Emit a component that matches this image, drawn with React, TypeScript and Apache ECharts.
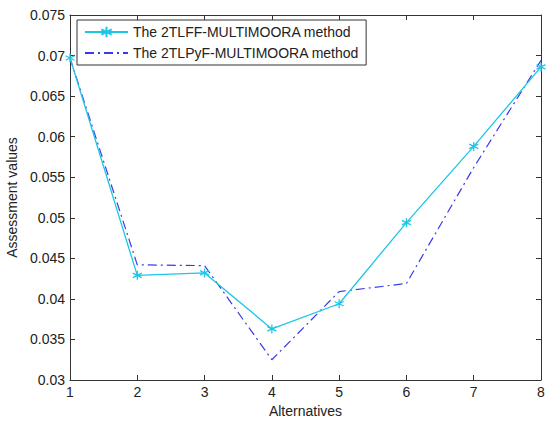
import React, { useEffect, useRef } from "react";
import * as echarts from "echarts";

const alternatives = [1, 2, 3, 4, 5, 6, 7, 8];
const tlffValues = [0.0697, 0.0429, 0.0432, 0.0363, 0.0394, 0.0494, 0.0588, 0.0686];
const tlpyfValues = [0.0697, 0.0442, 0.0441, 0.0325, 0.0409, 0.0419, 0.0562, 0.0694];
const seriesNames = ["The 2TLFF-MULTIMOORA method", "The 2TLPyF-MULTIMOORA method"];

const FONT = "Liberation Sans";
const FS = 14;
const asterisk = "path://M0,-5L0,5M-4.3,-2.5L4.3,2.5M-4.3,2.5L4.3,-2.5";

export default function App() {
  const ref = useRef<HTMLDivElement>(null);
  useEffect(() => {
    const chart = echarts.init(ref.current!, null, { renderer: "svg" });
    const axisLine = { show: true, lineStyle: { color: "#333", width: 1 } };
    const tick = { show: true, inside: true, length: 5, lineStyle: { color: "#333" } };
    chart.setOption({
      animation: false,
      backgroundColor: "#fff",
      textStyle: { fontFamily: FONT },
      grid: { left: 70, right: 6, top: 15, bottom: 41, containLabel: false, outerBoundsMode: "none" },
      legend: {
        orient: "vertical",
        left: 77,
        top: 20,
        padding: [5, 7, 5, 7],
        itemGap: 7,
        itemWidth: 43,
        itemHeight: 13,
        borderColor: "#333",
        borderWidth: 1,
        backgroundColor: "#fff",
        textStyle: { fontFamily: FONT, fontSize: FS, color: "#222" },
        data: [seriesNames[0], { name: seriesNames[1], itemStyle: { opacity: 0 } }],
      },
      xAxis: [
        {
          type: "value",
          min: 1,
          max: 8,
          interval: 1,
          name: "Alternatives",
          nameLocation: "middle",
          nameGap: 23,
          nameTextStyle: { fontFamily: FONT, fontSize: FS, color: "#222" },
          axisLine,
          axisTick: tick,
          splitLine: { show: false },
          axisLabel: { fontFamily: FONT, fontSize: FS, color: "#222", margin: 5 },
        },
        {
          type: "value",
          min: 1,
          max: 8,
          interval: 1,
          position: "top",
          axisLine,
          axisTick: tick,
          splitLine: { show: false },
          axisLabel: { show: false },
        },
      ],
      yAxis: [
        {
          type: "value",
          min: 0.03,
          max: 0.075,
          interval: 0.005,
          name: "Assessment values",
          nameLocation: "middle",
          nameGap: 49,
          nameTextStyle: { fontFamily: FONT, fontSize: FS, color: "#222" },
          axisLine,
          axisTick: tick,
          splitLine: { show: false },
          axisLabel: {
            fontFamily: FONT,
            fontSize: FS,
            color: "#222",
            margin: 5,
            formatter: (v: number) => String(parseFloat(v.toFixed(3))),
          },
        },
        {
          type: "value",
          min: 0.03,
          max: 0.075,
          interval: 0.005,
          position: "right",
          axisLine,
          axisTick: tick,
          splitLine: { show: false },
          axisLabel: { show: false },
        },
      ],
      series: [
        {
          name: seriesNames[0],
          type: "line",
          data: alternatives.map((a, i) => [a, tlffValues[i]]),
          symbol: asterisk,
          symbolSize: 9,
          showAllSymbol: true,
          lineStyle: { color: "#1cc6e6", width: 1.3 },
          itemStyle: { color: "#1cc6e6", borderColor: "#1cc6e6", borderWidth: 1.3 },
          z: 3,
        },
        {
          name: seriesNames[1],
          type: "line",
          data: alternatives.map((a, i) => [a, tlpyfValues[i]]),
          symbol: "none",
          lineStyle: { color: "#3a3ae8", width: 1.2, type: [9, 4, 2, 4] },
          itemStyle: { color: "#3a3ae8" },
          z: 2,
        },
      ],
    });
    return () => chart.dispose();
  }, []);
  return <div ref={ref} style={{ width: 547, height: 421, position: "absolute", left: 0, top: 0 }} />;
}
